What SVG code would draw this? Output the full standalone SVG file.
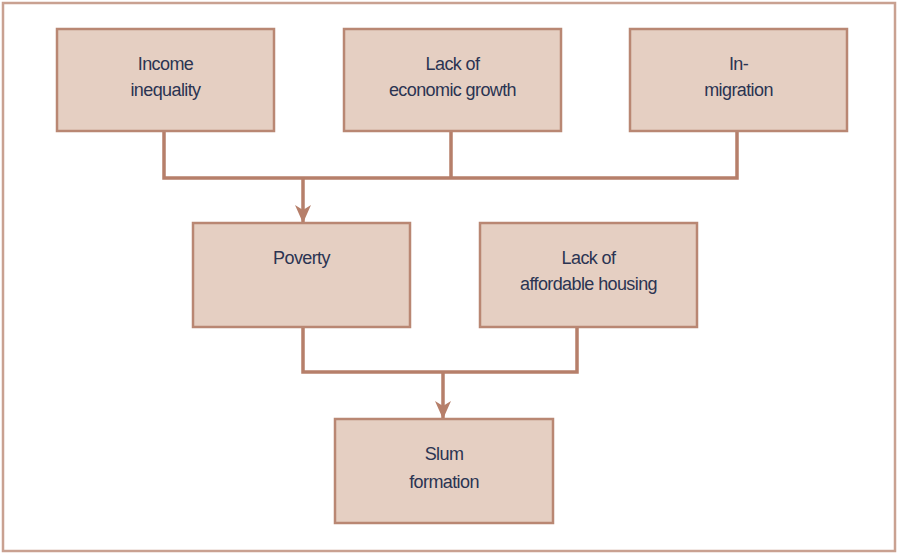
<svg xmlns="http://www.w3.org/2000/svg" width="898" height="554" viewBox="0 0 898 554">
<defs>
<style>
.box{fill:#e5cfc2;stroke:#b98773;stroke-width:2.5}
.t{font-family:"Liberation Sans",Arial,sans-serif;font-size:18px;fill:#2b3452;text-anchor:middle;letter-spacing:-0.6px}
.c{fill:none;stroke:#b67f6a;stroke-width:3.5}
</style>
<marker id="ah" markerWidth="18" markerHeight="16" refX="18" refY="8" orient="auto" markerUnits="userSpaceOnUse" viewBox="0 0 18 16">
<path d="M0,0 L5,8 L0,16 L18,8 Z" fill="#b67f6a"/>
</marker>
</defs>
<rect x="3" y="3" width="892" height="548" fill="#fff" stroke="#c9a191" stroke-width="2.5"/>
<g id="connectors">
<path class="c" d="M164,131 V178 H737 V131 M451,131 V178"/>
<path class="c" d="M303,178 V223" marker-end="url(#ah)"/>
<path class="c" d="M303,327 V372 H577 V327"/>
<path class="c" d="M443,372 V419" marker-end="url(#ah)"/>
</g>
<g id="income">
<rect class="box" x="57" y="29" width="217" height="102"/>
<text class="t" x="165.5" y="70">Income</text>
<text class="t" x="165.5" y="96">inequality</text>
</g>
<g id="growth">
<rect class="box" x="344" y="29" width="217" height="102"/>
<text class="t" x="452.5" y="70">Lack of</text>
<text class="t" x="452.5" y="96">economic growth</text>
</g>
<g id="migration">
<rect class="box" x="630" y="29" width="217" height="102"/>
<text class="t" x="738.5" y="70">In-</text>
<text class="t" x="738.5" y="96">migration</text>
</g>
<g id="poverty">
<rect class="box" x="193" y="223" width="217" height="104"/>
<text class="t" x="301.5" y="264">Poverty</text>
</g>
<g id="housing">
<rect class="box" x="480" y="223" width="217" height="104"/>
<text class="t" x="588.5" y="264">Lack of</text>
<text class="t" x="588.5" y="290">affordable housing</text>
</g>
<g id="slum">
<rect class="box" x="335" y="419" width="218" height="104"/>
<text class="t" x="444" y="460">Slum</text>
<text class="t" x="444" y="488">formation</text>
</g>
</svg>
